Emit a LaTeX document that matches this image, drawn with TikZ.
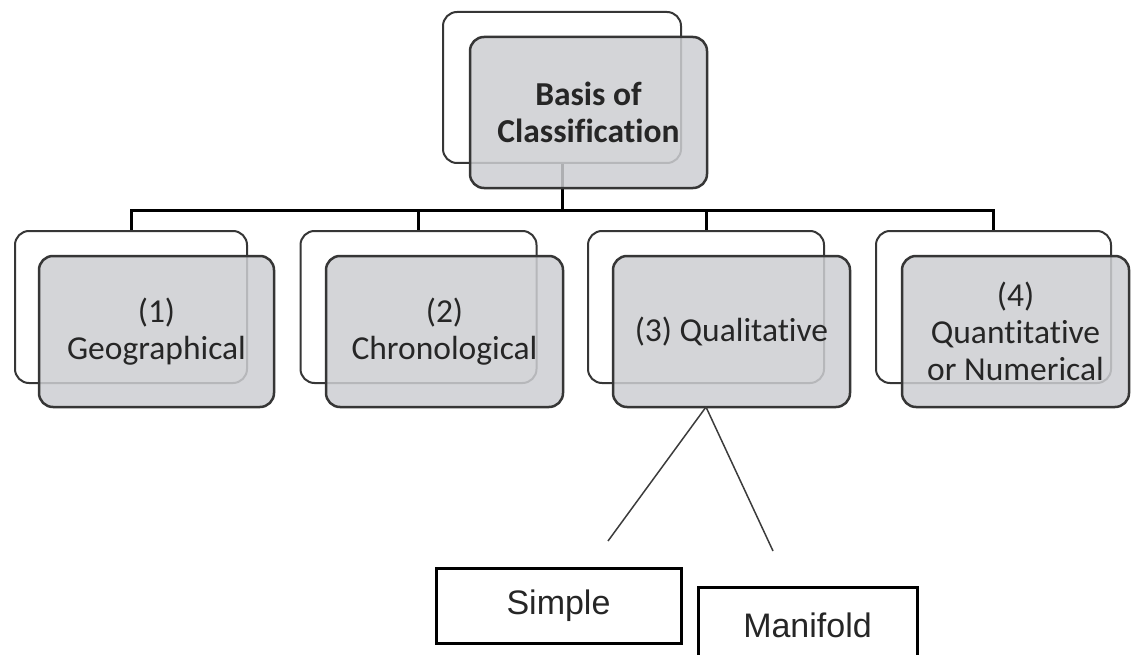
\documentclass[tikz,border=0pt]{standalone}
\usepackage{fontspec}
\newfontfamily\calfont[Ligatures=NoCommon]{Carlito}
\newfontfamily\arialfont{Liberation Sans}
\definecolor{edgecol}{HTML}{363636}
\definecolor{boxfill}{HTML}{CDCED2}
\definecolor{thincol}{HTML}{3C3C3C}
\definecolor{textcol}{HTML}{262626}
\begin{document}
\begin{tikzpicture}[x=1pt,y=-1pt,
  backbox/.style={draw=edgecol, line width=2pt, rounded corners=14pt, fill=white, inner sep=0pt},
  frontbox/.style={draw=edgecol, line width=2.5pt, rounded corners=14pt, fill=boxfill, fill opacity=0.85, text opacity=1, text=textcol, align=center, inner sep=0pt, font=\calfont\fontsize{33.5}{37}\selectfont},
  conn/.style={line width=3pt, draw=black},
  thinline/.style={line width=1.5pt, draw=thincol},
  plainbox/.style={draw=black, line width=3pt, fill=white, text=textcol, inner sep=0pt, font=\arialfont\fontsize{34}{40}\selectfont}]
\useasboundingbox (0,0) rectangle (1131,655);
\clip (0,0) rectangle (1131,655);
% back boxes
\node[backbox, minimum width=238pt, minimum height=151pt] (topback) at (562,87.5) {};
\node[backbox, minimum width=232pt, minimum height=152pt] (b1) at (131,307) {};
\node[backbox, minimum width=236pt, minimum height=152pt] (b2) at (418.5,307) {};
\node[backbox, minimum width=236pt, minimum height=152pt] (b3) at (706,307) {};
\node[backbox, minimum width=235pt, minimum height=152pt] (b4) at (993.5,307) {};
% connectors
\coordinate (bar) at (562,210);
\draw[conn] (topback.south) -- (bar);
\draw[conn] (bar) -| (b1.north);
\draw[conn] (bar) -| (b2.north);
\draw[conn] (bar) -| (b3.north);
\draw[conn] (bar) -| (b4.north);
% front boxes
\node[frontbox, minimum width=237pt, minimum height=151pt] (topfront) at (588.5,112.5) {\bfseries Basis of\\\bfseries Classification};
\node[frontbox, minimum width=235pt, minimum height=151pt] (f1) at (156.5,331.5) {(1)\\Geographical};
\node[frontbox, minimum width=237pt, minimum height=151pt] (f2) at (444.5,331.5) {(2)\\Chronological};
\node[frontbox, minimum width=237pt, minimum height=151pt] (f3) at (731.5,331.5) {(3) Qualitative};
\node[frontbox, minimum width=227pt, minimum height=151pt] (f4) at (1015.5,331.5) {(4)\\Quantitative\\or Numerical};
% sub-boxes
\node[plainbox, minimum width=245pt, minimum height=75pt] (simple) at (558.5,605.5) {\raisebox{2pt}{Simple}};
\node[plainbox, minimum width=219pt, minimum height=86pt] (manifold) at (807.5,630) {\raisebox{10pt}{Manifold}};
% diagonal lines
\coordinate (qa) at (706,407);
\coordinate (se) at (608,541);
\coordinate (me) at (773,551);
\draw[thinline] (qa) -- (se);
\draw[thinline] (qa) -- (me);
\end{tikzpicture}
\end{document}
